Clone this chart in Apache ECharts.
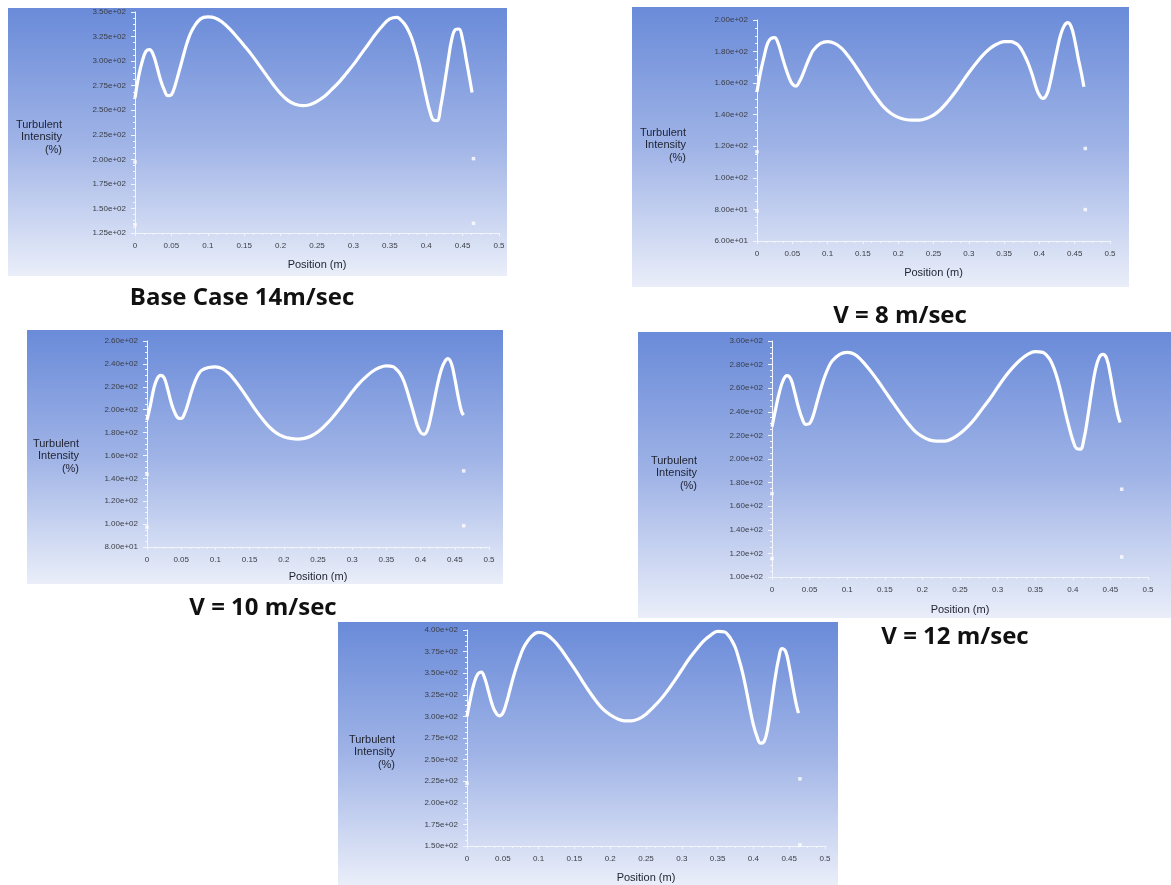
<!DOCTYPE html>
<html>
<head>
<meta charset="utf-8">
<script src="https://cdn.jsdelivr.net/npm/echarts@6/dist/echarts.min.js"></script>
<style>
html,body{margin:0;padding:0;background:#ffffff;}
#chart{width:1171px;height:885px;}
</style>
</head>
<body>
<div id="chart"></div>
<script>
// ---------------- DATA ----------------
const positions = [0,0.005,0.01,0.015,0.02,0.025,0.03,0.035,0.04,0.045,0.05,0.055,0.06,0.065,0.07,0.075,0.08,
  0.09,0.1,0.11,0.12,0.13,0.14,0.15,0.16,0.17,0.18,0.19,0.2,0.21,0.22,0.23,0.24,0.25,0.26,0.27,0.28,0.29,0.3,
  0.31,0.32,0.33,0.34,0.35,0.36,0.365,0.37,0.375,0.38,0.385,0.39,0.395,0.4,0.405,0.41,0.415,0.42,0.425,0.43,
  0.435,0.44,0.445,0.45,0.455,0.46,0.463];

const titles = ["Base Case 14m/sec", "V = 8 m/sec", "V = 10 m/sec", "V = 12 m/sec", ""];
const yAxisTitle = "Turbulent\nIntensity\n(%)";
const xAxisTitle = "Position (m)";

const tiBase14 = [262.5,284.5,299.8,310,311.7,306.6,294.7,281,271,264.8,265.8,275,288,301.5,315,326,333.7,
  343,345,344,339.5,332.7,324.5,315.7,306.6,296.4,286.2,276,266.9,260,256,254.6,255.6,259,264,271,278.4,287.2,296.4,
  306.6,316.7,327,336,343,344.6,342,338,332,323.5,311.7,298,281,264,248.9,240,239.5,254,276,299.8,
  321.8,332,332.7,321.8,301.5,281,268];

const tiV8 = [154.5,167,176.7,185.2,188.4,188.8,185.2,177.8,170.4,164,159.4,158.1,160.9,165.7,171.5,176.7,181,
  185.2,186.3,185.2,182,176.7,170.4,163.6,156.6,150.3,144.6,140.8,138.3,137,136.6,136.6,137.6,139.7,143.3,148.2,153.9,160.2,166.6,
  172.5,177.8,182,184.8,186.3,186.3,185.5,184.1,181,176.7,171.5,165.1,157.7,152.4,150.3,152.4,159.8,170.4,181,190.5,
  196.2,198.3,195.8,187.3,175.7,165.1,157.7];

const tiV10 = [190.9,204,218.5,227.2,230,227.8,218.5,206.9,198.2,193,192.3,196.7,205.4,215.6,224.3,230.7,234.4,
  236.8,237.4,235.9,231.5,224.3,216.2,207.4,198.7,190.9,184.2,179.3,176.4,174.9,174.3,174.9,177,180.7,186,192.3,199.6,207.4,215.6,
  222.8,228.6,233.6,236.8,238.2,237.4,235,231.5,225.7,217,206.9,196.7,186.5,180.2,178.4,182.2,193.8,208.3,222.8,234.4,
  241.7,244.6,240.3,227.2,211.2,198.2,195.3];

const tiV12 = [227.3,242.9,257,266.9,270.6,267.8,257,244.3,234.4,229.3,230.1,237.2,248.5,259.8,269.7,277.4,283,
  288.7,290.4,288.7,283,275.4,266.9,257.8,248.5,239.5,231,223.6,218.9,216,215.1,215.1,217.4,221.6,227.3,234.4,242.9,251.3,260.7,
  269.7,277.4,283.9,288.7,291,290.4,288.1,283.9,276.8,266.9,254.2,240,227.3,216,208.9,208.3,217.4,235.8,257,275.4,
  285.9,288.7,285.3,271.1,252.8,237.2,231];

const tiLast = [300,321.2,338.6,349,351.3,343.6,328.9,314.2,304.6,300.7,303.8,315.4,330.8,346.3,359.8,371.4,381.1,
  392.7,397.3,395.4,388.8,379.1,367.5,355.2,342.4,329.7,318.1,308.4,301.9,297.2,294.9,294.9,297.2,302.6,310.4,319.2,329.7,341.3,354,
  366.4,377.2,386.9,393.8,398.5,397.7,393.8,387.6,379.1,365.6,350.2,330.8,309.6,290.3,276.7,269,270.9,286.4,313.4,342.4,
  365.6,378.4,375.3,357.9,334.7,313.4,303.8];

// isolated boundary points
const edgeBase14 = [[0,197.3],[0,133.5],[0.465,200.7],[0.465,134.9]];
const edgeV8 = [[0,116.5],[0,79],[0.465,118.6],[0.465,79.9]];
const edgeV10 = [[0,143.6],[0,97.4],[0.463,146.5],[0.463,98.6]];
const edgeV12 = [[0,170.7],[0,115.6],[0.465,174.4],[0.465,117]];
const edgeLast = [[0,222.6],[0,149.2],[0.465,227.7],[0.465,151.2]];

// y ranges (min, max, interval)
const yMins = [125, 60, 80, 100, 150];
const yMaxs = [350, 200, 260, 300, 400];
const yIntervals = [25, 20, 20, 20, 25];
const xMin = 0, xMax = 0.5, xInterval = 0.05;

// ---------------- LAYOUT ----------------
const seriesValues = [tiBase14, tiV8, tiV10, tiV12, tiLast];
const edgeValues = [edgeBase14, edgeV8, edgeV10, edgeV12, edgeLast];

const panels = [
  {box:[8,8,499,268],   grid:{left:135, top:12,  width:364, height:221}, yname:[62,137],  xgap:26, cap:[242,298]},
  {box:[632,7,497,280], grid:{left:757, top:20,  width:353, height:221}, yname:[686,145], xgap:26, cap:[900,316]},
  {box:[27,330,476,254],grid:{left:147, top:341, width:342, height:206}, yname:[79,456],  xgap:24, cap:[263,608]},
  {box:[638,332,533,286],grid:{left:772,top:341, width:376, height:236}, yname:[697,473], xgap:27, cap:[955,637]},
  {box:[338,622,500,263],grid:{left:467,top:630, width:358, height:216}, yname:[395,752], xgap:26, cap:null}
];

function sci(v){
  const s = Number(v).toExponential(2);
  return s.replace(/e([+-])(\d+)$/, function(m, sg, d){ return 'e' + sg + (d.length < 2 ? '0' + d : d); });
}

const tickColor = '#3a3d45';
const axisWhite = '#f3f5fc';

const grids = [], xAxes = [], yAxes = [], series = [], graphics = [];

panels.forEach(function(p, i){
  graphics.push({
    type:'rect', z:-10, silent:true,
    shape:{x:p.box[0], y:p.box[1], width:p.box[2], height:p.box[3]},
    style:{fill:{type:'linear', x:0, y:0, x2:0, y2:1, colorStops:[
      {offset:0, color:'#6a8bd9'}, {offset:0.5, color:'#9fb3e6'}, {offset:1, color:'#eaeef9'}]}}
  });
  graphics.push({
    type:'text', z:100, silent:true,
    style:{x:p.yname[0], y:p.yname[1], text:yAxisTitle, align:'right', verticalAlign:'middle',
      font:'11px "Liberation Sans", Arial, sans-serif', fill:'#1e2230', lineHeight:12.5}
  });
  if (p.cap && titles[i]) {
    graphics.push({
      type:'text', z:100, silent:true,
      style:{x:p.cap[0], y:p.cap[1], text:titles[i], align:'center', verticalAlign:'middle',
        font:'bold 24px "Open Sans", "Noto Sans", sans-serif', fill:'#111111'}
    });
  }
  grids.push({left:p.grid.left, top:p.grid.top, width:p.grid.width, height:p.grid.height, containLabel:false});
  xAxes.push({
    type:'value', gridIndex:i, min:xMin, max:xMax, interval:xInterval,
    name:xAxisTitle, nameLocation:'middle', nameGap:p.xgap,
    nameTextStyle:{color:'#1e2230', fontSize:11, fontFamily:'"Liberation Sans", Arial, sans-serif'},
    axisLine:{show:true, onZero:false, lineStyle:{color:axisWhite, width:1}},
    axisTick:{show:true, length:3, lineStyle:{color:axisWhite}},
    minorTick:{show:true, splitNumber:4, length:2, lineStyle:{color:axisWhite}},
    axisLabel:{color:tickColor, fontSize:8, margin:9, fontFamily:'"Liberation Sans", Arial, sans-serif'},
    splitLine:{show:false}
  });
  yAxes.push({
    type:'value', gridIndex:i, min:yMins[i], max:yMaxs[i], interval:yIntervals[i],
    axisLine:{show:true, onZero:false, lineStyle:{color:axisWhite, width:1}},
    axisTick:{show:true, length:4, lineStyle:{color:axisWhite}},
    minorTick:{show:true, splitNumber:4, length:2, lineStyle:{color:axisWhite}},
    axisLabel:{color:tickColor, fontSize:8, margin:9, formatter:sci,
      fontFamily:'"Liberation Sans Narrow", "Liberation Sans", Arial, sans-serif'},
    splitLine:{show:false}
  });
  series.push({
    type:'line', xAxisIndex:i, yAxisIndex:i,
    data: positions.map(function(x, k){ return [x, seriesValues[i][k]]; }),
    smooth:0.4, showSymbol:false, symbol:'none',
    lineStyle:{color:'#ffffff', width:3.2},
    animation:false, z:5
  });
  series.push({
    type:'scatter', xAxisIndex:i, yAxisIndex:i,
    data: edgeValues[i], symbol:'rect', symbolSize:3.5,
    itemStyle:{color:'#ffffff'}, animation:false, z:5
  });
});

const chart = echarts.init(document.getElementById('chart'), null, {renderer:'canvas'});
chart.setOption({
  animation:false,
  backgroundColor:'#ffffff',
  grid:grids, xAxis:xAxes, yAxis:yAxes, series:series,
  graphic:{elements:graphics}
});
</script>
</body>
</html>
